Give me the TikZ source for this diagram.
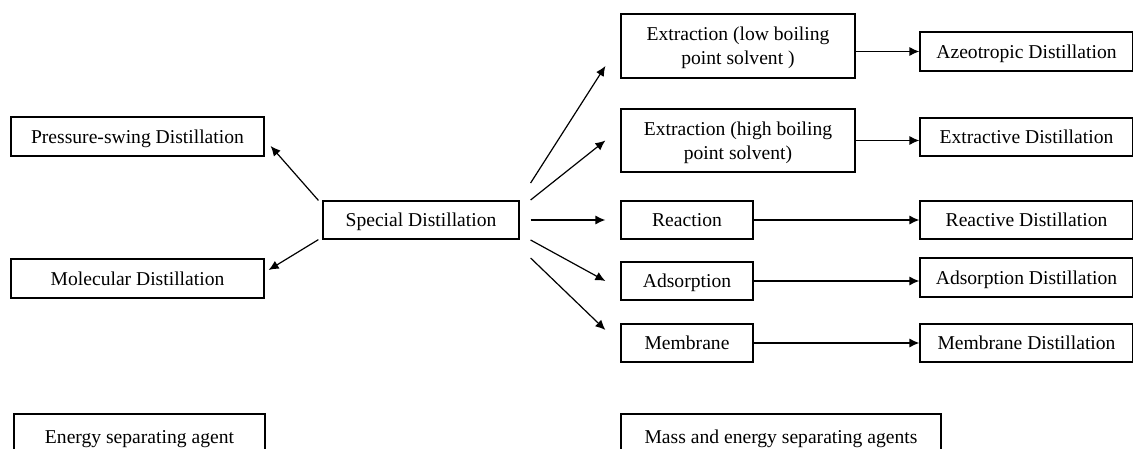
\documentclass[tikz,border=0pt]{standalone}
\usepackage{fontspec}
\setmainfont{Liberation Serif}
\usepackage{tikz}
\usetikzlibrary{arrows.meta}

\tikzset{box/.style={draw, line width=1.2pt, inner sep=0pt, align=center,
text depth=0pt, font=\fontsize{19.6}{24}\selectfont}}

\begin{document}
\begin{tikzpicture}[x=1pt, y=-1pt]
\useasboundingbox (0,0) rectangle (1133,449);
\node[box, minimum width=253pt, minimum height=39pt] (pressure) at (137.5,136.5) {Pressure-swing Distillation};
\node[box, minimum width=253pt, minimum height=39pt] (molecular) at (137.5,278.5) {Molecular Distillation};
\node[box, minimum width=196pt, minimum height=38pt] (special) at (421,220) {Special Distillation};
\node[box, minimum width=234pt, minimum height=64pt] (extlow) at (738,46) {Extraction (low boiling\\point solvent )};
\node[box, minimum width=234pt, minimum height=63pt] (exthigh) at (738,140.5) {Extraction (high boiling\\point solvent)};
\node[box, minimum width=132pt, minimum height=38pt] (reaction) at (687,220) {Reaction};
\node[box, minimum width=132pt, minimum height=38pt] (adsorption) at (687,281) {Adsorption};
\node[box, minimum width=132pt, minimum height=38pt] (membrane) at (687,343) {Membrane};
\node[box, minimum width=213pt, minimum height=39pt] (azeo) at (1026.5,51.5) {Azeotropic Distillation};
\node[box, minimum width=213pt, minimum height=38pt] (extractive) at (1026.5,137) {Extractive Distillation};
\node[box, minimum width=213pt, minimum height=38pt] (reactive) at (1026.5,220) {Reactive Distillation};
\node[box, minimum width=213pt, minimum height=39pt] (adsdist) at (1026.5,277.5) {Adsorption Distillation};
\node[box, minimum width=213pt, minimum height=38pt] (memdist) at (1026.5,343) {Membrane Distillation};
\node[box, minimum width=251pt, minimum height=46pt] (energy) at (139.5,437) {Energy separating agent};
\node[box, minimum width=320pt, minimum height=46pt] (mass) at (781,437) {Mass and energy separating agents};
\path[->,line width=1.2pt,>={Latex[length=10pt,width=9pt]}]([xshift=-4pt]special.north west) edge ([xshift=6pt,yshift=-9.5pt]pressure.east);
\path[->,line width=1.2pt,>={Latex[length=10pt,width=9pt]}]([xshift=-4pt]special.south west) edge ([xshift=4pt,yshift=8.5pt]molecular.east);
\path[->,line width=1.2pt,>={Latex[length=10pt,width=9pt]}]([xshift=11pt,yshift=37pt]special.east) edge ([xshift=-15pt,yshift=-20pt]extlow.west);
\path[->,line width=1.2pt,>={Latex[length=10pt,width=9pt]}]([xshift=11pt,yshift=20pt]special.east) edge ([xshift=-15pt]exthigh.west);
\path[->,line width=1.2pt,>={Latex[length=10pt,width=9pt]}]([xshift=11pt]special.east) edge ([xshift=-15pt]reaction.west);
\path[->,line width=1.2pt,>={Latex[length=10pt,width=9pt]}]([xshift=11pt,yshift=-20pt]special.east) edge ([xshift=-15pt]adsorption.west);
\path[->,line width=1.2pt,>={Latex[length=10pt,width=9pt]}]([xshift=11pt,yshift=-38pt]special.east) edge ([xshift=-15pt,yshift=13pt]membrane.west);
\path[->,line width=1.2pt,>={Latex[length=10pt,width=9pt]}](extlow.east |- azeo.west) edge (azeo.west);
\path[->,line width=1.2pt,>={Latex[length=10pt,width=9pt]}](exthigh.east) edge (exthigh.east -| extractive.west);
\path[->,line width=1.2pt,>={Latex[length=10pt,width=9pt]}](reaction.east) edge (reactive.west);
\path[->,line width=1.2pt,>={Latex[length=10pt,width=9pt]}](adsorption.east) edge (adsorption.east -| adsdist.west);
\path[->,line width=1.2pt,>={Latex[length=10pt,width=9pt]}](membrane.east) edge (membrane.east -| memdist.west);
\end{tikzpicture}
\end{document}
